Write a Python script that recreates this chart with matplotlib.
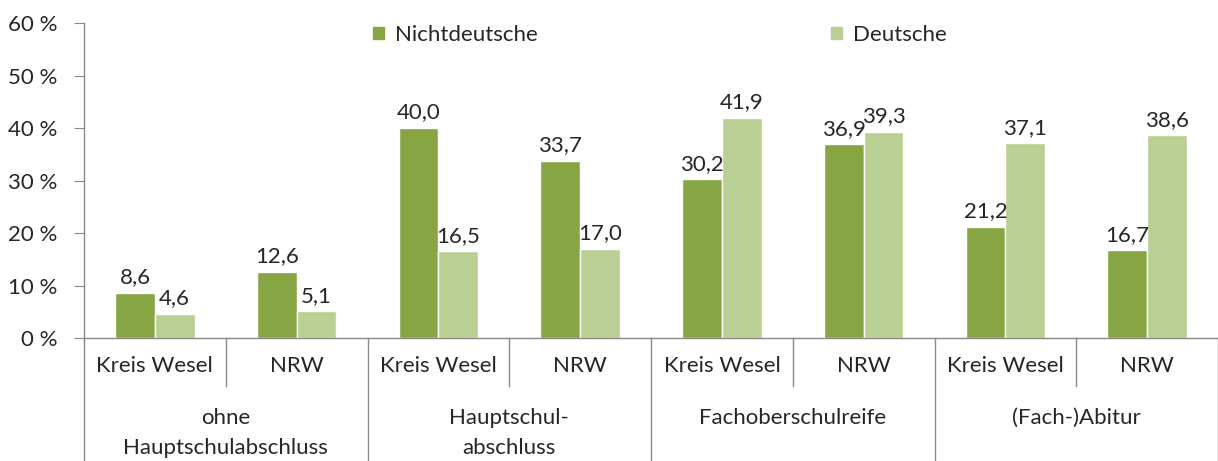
import numpy as np
import matplotlib.pyplot as plt
from matplotlib.patches import Patch

plt.rcParams["font.family"] = ["Lato", "DejaVu Sans"]

# Daten
categories = ["Kreis Wesel", "NRW"] * 4
groups = ["ohne\nHauptschulabschluss", "Hauptschul-\nabschluss",
          "Fachoberschulreife", "(Fach-)Abitur"]
nichtdeutsche = [8.6, 12.6, 40.0, 33.7, 30.2, 36.9, 21.2, 16.7]
deutsche = [4.6, 5.1, 16.5, 17.0, 41.9, 39.3, 37.1, 38.6]
yticks = [0, 10, 20, 30, 40, 50, 60]

dark = "#88A544"
light = "#BACF94"
grey = "#898989"
txt = "#262626"
fs = 16

fig = plt.figure(figsize=(12.18, 4.61), dpi=100)
ax = fig.add_axes([84 / 1218, 1 - 338 / 461, 1 - 84 / 1218, (338 - 23) / 461])

x = np.arange(len(categories))
w = 0.28
b1 = ax.bar(x - w / 2, nichtdeutsche, w, color=dark, edgecolor="white", linewidth=1)
b2 = ax.bar(x + w / 2, deutsche, w, color=light, edgecolor="white", linewidth=1)

fmt = lambda v: f"{v:.1f}".replace(".", ",")
ax.bar_label(b1, labels=[fmt(v) for v in nichtdeutsche], padding=4, fontsize=fs, color=txt)
ax.bar_label(b2, labels=[fmt(v) for v in deutsche], padding=4, fontsize=fs, color=txt)

ax.set_xlim(-0.5, len(categories) - 0.5)
ax.set_ylim(0, 60)
ax.set_yticks(yticks)
ax.set_yticklabels([f"{t} %" for t in yticks], fontsize=fs, color=txt)
ax.tick_params(axis="y", length=7, color=grey, pad=12)
ax.set_xticks([])

for s in ["top", "right"]:
    ax.spines[s].set_visible(False)
for s in ["left", "bottom"]:
    ax.spines[s].set_color(grey)
    ax.spines[s].set_linewidth(1)

# Kategorieachse mit zwei Ebenen
tr = ax.get_xaxis_transform()
for i, c in enumerate(categories):
    ax.text(i, -0.089, c, transform=tr, ha="center", va="center",
            fontsize=fs, color=txt)
for i in range(len(categories) + 1):
    y_end = -0.152 if i % 2 == 1 else -0.40
    ax.plot([i - 0.5, i - 0.5], [0, y_end], transform=tr, color=grey,
            lw=1, clip_on=False)
for j, g in enumerate(groups):
    ax.text(2 * j + 0.5, -0.222, g, transform=tr, ha="center", va="top",
            fontsize=fs, color=txt, linespacing=1.6)

handles = [Patch(color=dark, label="Nichtdeutsche"),
           Patch(color=light, label="Deutsche")]
ax.legend(handles=handles, ncol=2, loc="center", bbox_to_anchor=(0.508, 0.962),
          frameon=False, fontsize=fs, handlelength=0.5, handleheight=0.5,
          handletextpad=0.5, columnspacing=13.2, labelcolor=txt)

fig.savefig("out.png", dpi=100)
